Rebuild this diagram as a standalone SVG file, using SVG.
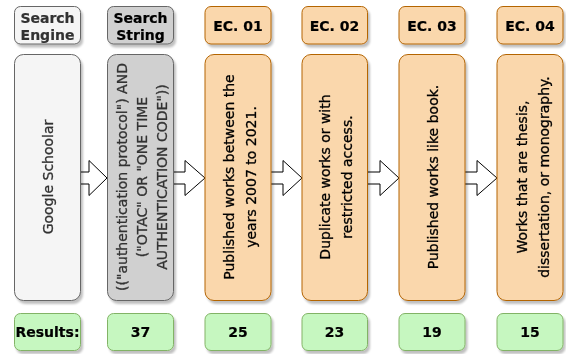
<svg xmlns="http://www.w3.org/2000/svg" width="566" height="354" viewBox="0 0 566 354">
<defs>
<filter id="sh" x="-20%" y="-20%" width="150%" height="150%">
<feGaussianBlur in="SourceAlpha" stdDeviation="1.2"/>
<feOffset dx="2" dy="3" result="b"/>
<feComponentTransfer><feFuncA type="linear" slope="0.25"/></feComponentTransfer>
<feMerge><feMergeNode/><feMergeNode in="SourceGraphic"/></feMerge>
</filter>
</defs>
<style>
text{font-family:"DejaVu Sans",Verdana,sans-serif;font-size:14px;text-anchor:middle;stroke-width:0.3px}
.b{font-weight:bold}
.lg{fill:#f5f5f5;stroke:#666666;stroke-width:1}
.dg{fill:#d0d0d0;stroke:#666666;stroke-width:1}
.or{fill:#fad7ac;stroke:#b46504;stroke-width:1}
.gr{fill:#c6f7c0;stroke:#82b366;stroke-width:1}
.t3{fill:#333333;stroke:#333333}
.tk{fill:#000000;stroke:#000000}
.b.tk,.b.t3{stroke-width:0.2px}
.arr{fill:#ffffff;stroke:#000000;stroke-width:1;stroke-linejoin:miter}
</style>
<rect width="566" height="354" fill="#ffffff"/>
<g id="connectors">
<polygon class="arr" points="80,172 89,172 89,160.5 107,178 89,195.5 89,184 80,184"/>
<polygon class="arr" points="173,172 185,172 185,160.5 205,178 185,195.5 185,184 173,184"/>
<polygon class="arr" points="270,172 283,172 283,160.5 302,178 283,195.5 283,184 270,184"/>
<polygon class="arr" points="367,172 380,172 380,160.5 399,178 380,195.5 380,184 367,184"/>
<polygon class="arr" points="464,172 477,172 477,160.5 497,178 477,195.5 477,184 464,184"/>
</g>
<g id="search-engine-header" filter="url(#sh)">
<rect class="lg" x="14.5" y="6.5" width="66" height="37.5" rx="6"/>
<text class="b t3" x="47.5" y="22.5">Search</text>
<text class="b t3" x="47.5" y="40">Engine</text>
</g>
<g id="google-scholar" filter="url(#sh)">
<rect class="lg" x="14.5" y="54.5" width="66" height="246" rx="9"/>
<text class="t3" transform="translate(47.5,177) rotate(-90)" x="0" y="5">Google Schoolar</text>
</g>
<g id="results-label" filter="url(#sh)">
<rect class="gr" x="14.5" y="313.5" width="66" height="37" rx="6"/>
<text class="b tk" x="47.5" y="337">Results:</text>
</g>
<g id="search-string-header" filter="url(#sh)">
<rect class="dg" x="107.5" y="6.5" width="66" height="37.5" rx="6"/>
<text class="b tk" x="140.5" y="22.5">Search</text>
<text class="b tk" x="140.5" y="40">String</text>
</g>
<g id="search-string" filter="url(#sh)">
<rect class="dg" x="107.5" y="54.5" width="66" height="246" rx="9"/>
<text class="t3" transform="translate(140.5,177) rotate(-90)"><tspan x="0" y="-13.5">(("authentication protocol") AND</tspan><tspan x="0" y="6.5">("OTAC" OR "ONE TIME</tspan><tspan x="0" y="26.5">AUTHENTICATION CODE"))</tspan></text>
</g>
<g id="result-37" filter="url(#sh)">
<rect class="gr" x="107.5" y="313.5" width="66" height="37" rx="6"/>
<text class="b tk" x="140.5" y="337">37</text>
</g>
<g id="ec01-header" filter="url(#sh)">
<rect class="or" x="205" y="6.5" width="66" height="37.5" rx="6"/>
<text class="b tk" x="238" y="30.5">EC. 01</text>
</g>
<g id="ec01" filter="url(#sh)">
<rect class="or" x="205" y="54.5" width="66" height="246" rx="9"/>
<text class="tk" transform="translate(238,177) rotate(-90)"><tspan x="0" y="-4.5">Published works between the</tspan><tspan x="0" y="17.5">years 2007 to 2021.</tspan></text>
</g>
<g id="result-25" filter="url(#sh)">
<rect class="gr" x="205" y="313.5" width="66" height="37" rx="6"/>
<text class="b tk" x="238" y="337">25</text>
</g>
<g id="ec02-header" filter="url(#sh)">
<rect class="or" x="302" y="6.5" width="65.5" height="37.5" rx="6"/>
<text class="b tk" x="334.5" y="30.5">EC. 02</text>
</g>
<g id="ec02" filter="url(#sh)">
<rect class="or" x="302" y="54.5" width="65.5" height="246" rx="9"/>
<text class="tk" transform="translate(334.5,177) rotate(-90)"><tspan x="0" y="-4.5">Duplicate works or with</tspan><tspan x="0" y="17.5">restricted access.</tspan></text>
</g>
<g id="result-23" filter="url(#sh)">
<rect class="gr" x="302" y="313.5" width="65.5" height="37" rx="6"/>
<text class="b tk" x="334.5" y="337">23</text>
</g>
<g id="ec03-header" filter="url(#sh)">
<rect class="or" x="399" y="6.5" width="66" height="37.5" rx="6"/>
<text class="b tk" x="432" y="30.5">EC. 03</text>
</g>
<g id="ec03" filter="url(#sh)">
<rect class="or" x="399" y="54.5" width="66" height="246" rx="9"/>
<text class="tk" transform="translate(432,177) rotate(-90)" x="0" y="5.5">Published works like book.</text>
</g>
<g id="result-19" filter="url(#sh)">
<rect class="gr" x="399" y="313.5" width="66" height="37" rx="6"/>
<text class="b tk" x="432" y="337">19</text>
</g>
<g id="ec04-header" filter="url(#sh)">
<rect class="or" x="497" y="6.5" width="66" height="37.5" rx="6"/>
<text class="b tk" x="530" y="30.5">EC. 04</text>
</g>
<g id="ec04" filter="url(#sh)">
<rect class="or" x="497" y="54.5" width="66" height="246" rx="9"/>
<text class="tk" transform="translate(530,177) rotate(-90)"><tspan x="0" y="-3.5">Works that are thesis,</tspan><tspan x="0" y="18.5">dissertation, or monography.</tspan></text>
</g>
<g id="result-15" filter="url(#sh)">
<rect class="gr" x="497" y="313.5" width="66" height="37" rx="6"/>
<text class="b tk" x="530" y="337">15</text>
</g>
</svg>
